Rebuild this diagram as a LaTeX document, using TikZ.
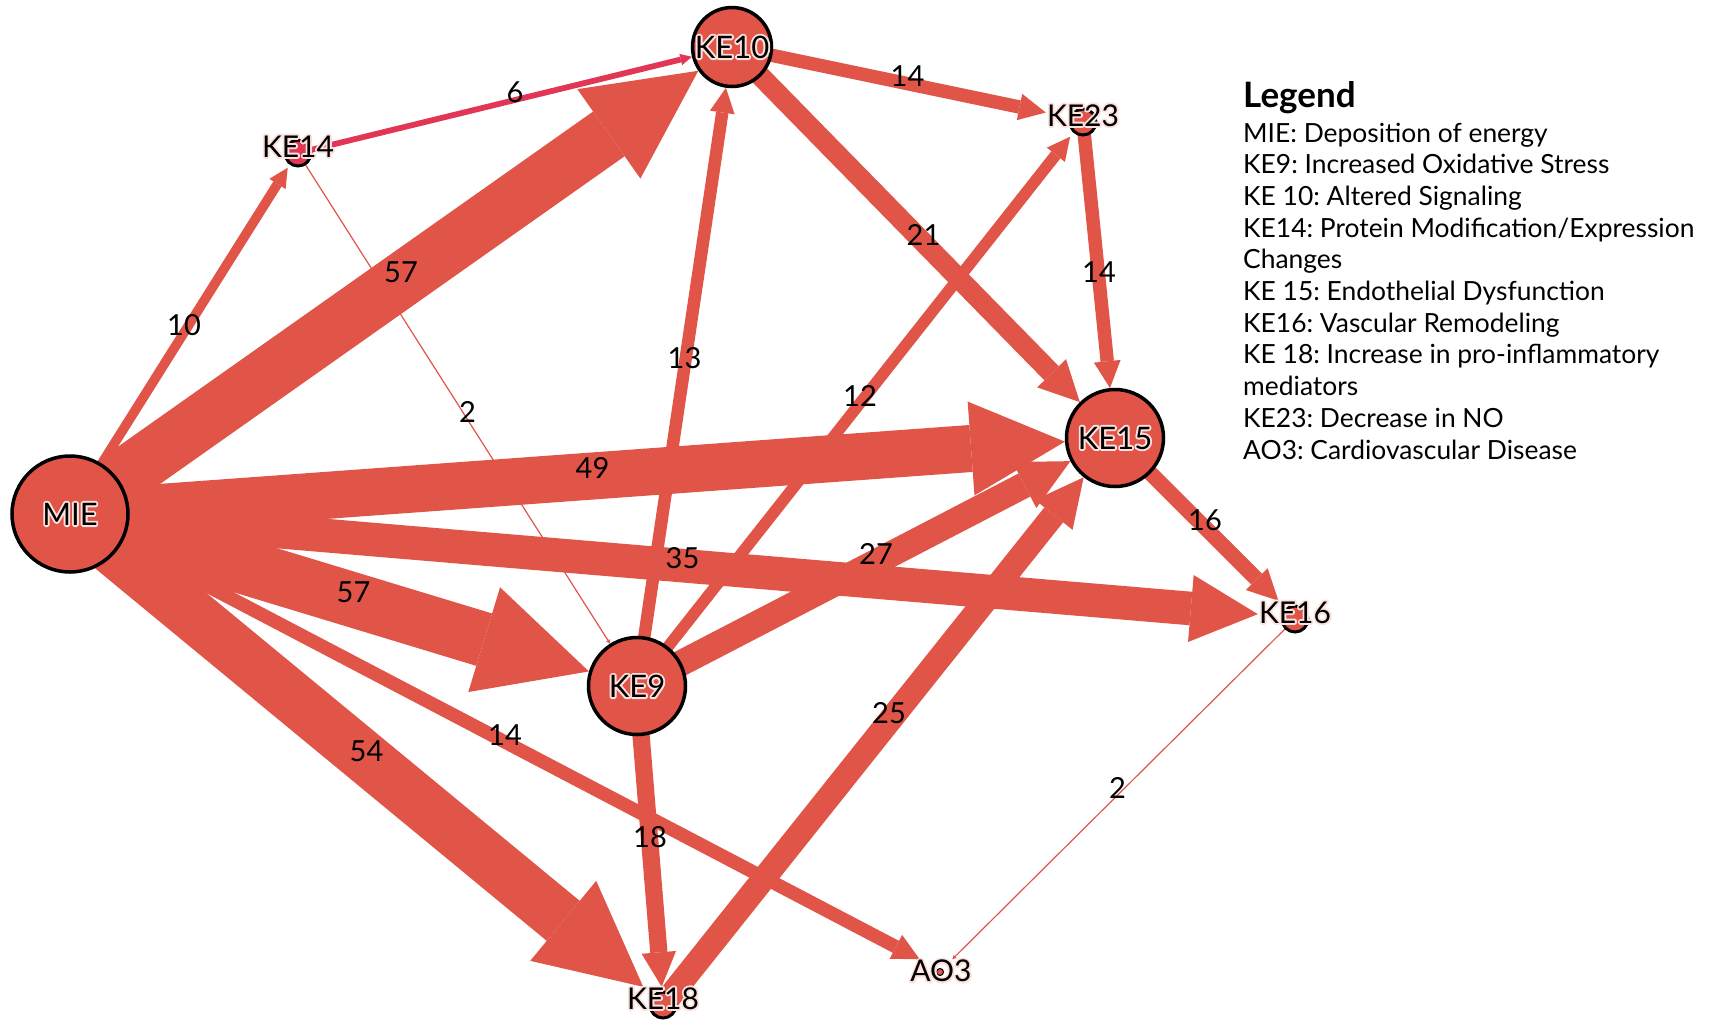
\documentclass[tikz,border=0pt]{standalone}
\usepackage{fontspec}
\setmainfont{Lato}
\usetikzlibrary{arrows.meta}
\frenchspacing

\definecolor{edgered}{RGB}{225,85,72}
\definecolor{edgecrim}{RGB}{226,54,86}

\pgfdeclarelayer{edgelayer}
\pgfsetlayers{edgelayer,main}

% light outline around node captions: stroked glyph outlines under the filled text
\newcommand\halo[1]{\rlap{\special{pdf:literal direct 1 Tr 3.8 w 1 j 0.988 0.886 0.871 RG}#1\special{pdf:literal direct 0 Tr}}#1}

% weighted edge: [colour]{source}{target circle}{target boundary}{weight}
\newcommand\kedge[5][edgered]{%
  \pgfmathsetmacro\ew{0.96*#5}%
  \pgfmathsetmacro\hw{2*\ew}%
  \begin{pgfonlayer}{edgelayer}
    \draw[#1, line width=\ew pt, -{Triangle[length=\hw pt, width=\hw pt, line width=0pt]}] (#2.center) -- (#4);
  \end{pgfonlayer}
  \path (#2.center) -- (#3.center) node[elabel, midway] (w#2#3) {#5};
}

\tikzset{
  bignode/.style={circle, draw=black, line width=3.5pt, fill=edgered, inner sep=0pt},
  smallnode/.style={circle, draw=black, line width=3pt, fill=edgered, minimum size=26pt, inner sep=0pt},
  nlabel/.style={font=\fontsize{31}{31}\selectfont, inner sep=0pt, text=black},
  slabel/.style={nlabel, font=\fontsize{30}{30}\selectfont, anchor=base, text height=22pt, text depth=10.5pt, inner xsep=1pt},
  elabel/.style={font=\fontsize{29}{29}\selectfont, inner sep=0pt, yshift=8pt},
  legtext/.style={font=\fontsize{26.4}{26.4}\selectfont, inner sep=0pt, anchor=base west},
  thinedge/.style={edgered, line width=1.2pt, -{Triangle[length=4pt, width=4pt, line width=0pt]}}
}

\begin{document}
\begin{tikzpicture}[x=1pt, y=-1pt]
\useasboundingbox (0,0) rectangle (1713,1021);
\begin{pgfonlayer}{edgelayer}
  \fill[white] (0,0) rectangle (1713,1021);
\end{pgfonlayer}

% event nodes
\node[bignode, minimum size=116pt] (MIE) at (70,514) {};
\node[bignode, minimum size=79pt] (KE10) at (732,47) {};
\node[bignode, minimum size=97pt] (KE9) at (637,686) {};
\node[bignode, minimum size=97pt] (KE15) at (1115,438) {};
\node[smallnode, fill=edgecrim] (KE14) at (298,153) {};
\node[smallnode] (KE23) at (1083,122) {};
\node[smallnode] (KE16) at (1295,619) {};
\node[smallnode] (KE18) at (663,1005) {};
\node[circle, draw=black, line width=1pt, fill=edgered, minimum size=7pt, inner sep=0pt] (AO3) at (940,972) {};

% captions
\node[nlabel] (MIEt) at (MIE.center) {\halo{MIE}};
\node[nlabel] (KE10t) at (KE10.center) {\halo{KE10}};
\node[nlabel] (KE9t) at (KE9.center) {\halo{KE9}};
\node[nlabel] (KE15t) at (KE15.center) {\halo{KE15}};
\node[slabel] (KE14t) at (298,157) {\halo{KE14}};
\node[slabel] (KE23t) at (1083,126) {\halo{KE23}};
\node[slabel] (KE16t) at (1295,623) {\halo{KE16}};
\node[slabel] (KE18t) at (663,1009) {\halo{KE18}};
\node[slabel, text depth=0pt] (AO3t) at (941,981.5) {\halo{AO3}};

% weighted relationships
\kedge{MIE}{KE10}{KE10}{57}
\kedge{MIE}{KE9}{KE9}{57}
\kedge{MIE}{KE18}{KE18t}{54}
\kedge{MIE}{KE15}{KE15}{49}
\kedge{MIE}{KE16}{KE16t}{35}
\kedge{MIE}{AO3}{AO3t}{14}
\kedge{MIE}{KE14}{KE14t}{10}
\kedge{KE9}{KE15}{KE15}{27}
\kedge{KE9}{KE18}{KE18t}{18}
\kedge{KE9}{KE10}{KE10}{13}
\kedge{KE9}{KE23}{KE23t}{12}
\kedge{KE18}{KE15}{KE15}{25}
\kedge{KE10}{KE15}{KE15}{21}
\kedge{KE10}{KE23}{KE23t}{14}
\kedge{KE23}{KE15}{KE15}{14}
\kedge{KE15}{KE16}{KE16t}{16}
\kedge[edgecrim]{KE14}{KE10}{KE10}{6}

\begin{pgfonlayer}{edgelayer}
  \draw[thinedge] (KE14.center) -- (KE9);
  \draw[thinedge] (KE16.center) -- (AO3t);
\end{pgfonlayer}
\path (KE14.center) -- (KE9.center) node[elabel, midway] (wKE14KE9) {2};
\path (KE16.center) -- (AO3.center) node[elabel, midway] (wKE16AO3) {2};

% legend
\node[font=\fontsize{35}{35}\selectfont\bfseries, inner sep=0pt, anchor=base west] (legtitle) at (1243,107) {Legend};
\foreach \t [count=\i] in {MIE: Deposition of energy, KE9: Increased Oxidative Stress, KE 10: Altered Signaling,
  KE14: Protein Modification/Expression, Changes, KE 15: Endothelial Dysfunction, KE16: Vascular Remodeling,
  KE 18: Increase in pro-inflammatory, mediators, KE23: Decrease in NO, AO3: Cardiovascular Disease}
  \node[legtext] (leg\i) at (1243, {142+31.7*(\i-1)}) {\t};
\end{tikzpicture}
\end{document}
